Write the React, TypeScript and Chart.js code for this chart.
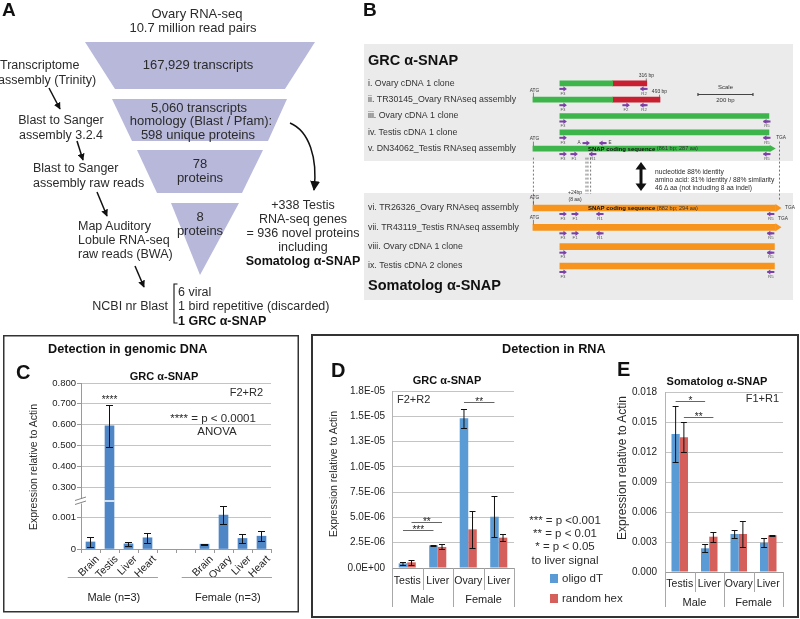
import React, { useEffect, useRef } from 'react';
import { Chart, registerables } from 'chart.js';

Chart.register(...registerables);

const FONT = '"Liberation Sans", Arial, Helvetica, sans-serif';

// ---------------- Panel C : detection in genomic DNA ----------------
const cCategories = ['Brain', 'Testis', 'Liver', 'Heart', '', '', 'Brain', 'Ovary', 'Liver', 'Heart'];
const cValues: (number | null)[] = [0.00022, 0.594, 0.00016, 0.00035, null, null, 0.00015, 0.00106, 0.00033, 0.0004];
const cErrors: (number | null)[] = [0.00015, 0.1, 0.00007, 0.00016, null, null, 0.00002, 0.00028, 0.00013, 0.00015];
const cStars = ['', '****', '', '', '', '', '', '', '', ''];
const cTickValues = [0, 0.001, 0.3, 0.4, 0.5, 0.6, 0.7, 0.8];
const cTickLabels = ['0', '0.001', '0.300', '0.400', '0.500', '0.600', '0.700', '0.800'];
const cGroups = ['Male (n=3)', 'Female (n=3)'];
const cGroupSpans = [[0, 3], [6, 9]];

// ---------------- Panel D : GRC alpha-SNAP in RNA ----------------
const seriesNames = ['oligo dT', 'random hex'];
const dCategories = ['Testis', 'Liver', 'Ovary', 'Liver'];
const dGroups = ['Male', 'Female'];
const dOligo = [4.6e-7, 2.24e-6, 1.48e-5, 5.07e-6];
const dOligoErr = [1.5e-7, 3e-8, 9.5e-7, 2.0e-6];
const dRandom = [5.6e-7, 2.08e-6, 3.82e-6, 3.0e-6];
const dRandomErr = [2.8e-7, 2.5e-7, 1.85e-6, 3.3e-7];
const dSig = [
  { a: [0, 0], b: [0, 1], v: 3.76e-6, text: '***' },
  { a: [1, 0], b: [1, 1], v: 4.58e-6, text: '**' },
  { a: [0, 2], b: [0, 3], v: 1.64e-5, text: '**' },
];

// ---------------- Panel E : Somatolog alpha-SNAP in RNA ----------------
const eCategories = ['Testis', 'Liver', 'Ovary', 'Liver'];
const eGroups = ['Male', 'Female'];
const eOligo = [0.0138, 0.00237, 0.0038, 0.00293];
const eOligoErr = [0.0028, 0.0004, 0.0004, 0.00045];
const eRandom = [0.01347, 0.00353, 0.0038, 0.00367];
const eRandomErr = [0.0015, 0.0005, 0.0013, 0.00004];
const eSig = [
  { a: [0, 0], b: [0, 1], v: 0.0171, text: '*' },
  { a: [1, 0], b: [1, 1], v: 0.0155, text: '**' },
];

// ---------------- Panel B : transcript maps (bp) ----------------
const grcRows = [
  'i. Ovary cDNA 1 clone',
  'ii. TR30145_Ovary RNAseq assembly',
  'iii. Ovary cDNA 1 clone',
  'iv. Testis cDNA 1 clone',
  'v. DN34062_Testis RNAseq assembly',
];
const grcCoding: [number, number][] = [[98, 290], [0, 290], [98, 858], [98, 858], [0, 861]];
const grcUtr: ([number, number] | null)[] = [[290, 414], [290, 462], null, null, null];
const grcLengthLabels = ['316 bp', '493 bp', '', '', ''];
const grcHasAtg = [false, true, false, false, true];
const grcArrow = [false, false, false, false, true];
const grcPrimers = [
  { row: 0, bp: 109, name: 'F3' }, { row: 0, bp: 404, name: 'R2' },
  { row: 1, bp: 109, name: 'F3' }, { row: 1, bp: 338, name: 'F2' }, { row: 1, bp: 404, name: 'R2' },
  { row: 2, bp: 109, name: 'F3' }, { row: 2, bp: 851, name: 'R5' },
  { row: 3, bp: 109, name: 'F3' }, { row: 3, bp: 851, name: 'R5' },
  { row: 4, bp: 109, name: 'F3' }, { row: 4, bp: 149, name: 'F1' }, { row: 4, bp: 218, name: 'R1' }, { row: 4, bp: 851, name: 'R5' },
  { row: 4, bp: 193, name: 'A', above: true }, { row: 4, bp: 255, name: 'E', above: true },
];
const grcCodingNote = ['SNAP coding sequence', ' (861 bp; 287 aa)'];
const grcStopBp = 895;
const grcIndelBp = [193, 200, 210];

const somRows = [
  'vi. TR26326_Ovary RNAseq assembly',
  'vii. TR43119_Testis RNAseq assembly',
  'viii. Ovary cDNA 1 clone',
  'ix. Testis cDNA 2 clones',
];
const somCoding: [number, number][] = [[0, 882], [0, 882], [98, 878], [98, 878]];
const somHasAtg = [true, true, false, false];
const somArrow = [true, true, false, false];
const somPrimers = [
  { row: 0, bp: 109, name: 'F3' }, { row: 0, bp: 153, name: 'F1' }, { row: 0, bp: 244, name: 'R1' }, { row: 0, bp: 865, name: 'R5' },
  { row: 1, bp: 109, name: 'F3' }, { row: 1, bp: 153, name: 'F1' }, { row: 1, bp: 244, name: 'R1' }, { row: 1, bp: 865, name: 'R5' },
  { row: 2, bp: 109, name: 'F3' }, { row: 2, bp: 865, name: 'R5' },
  { row: 3, bp: 109, name: 'F3' }, { row: 3, bp: 865, name: 'R5' },
];
const somCodingNote = ['SNAP coding sequence', ' (882 bp; 294 aa)'];
const somIndelNote = ['+24bp', '(8 aa)'];
const somIndelBp = 153;
const scaleBarBp = [600, 800];
const scaleBarLabel = '200 bp';

// ---------------- colours ----------------
const BLUE_C = '#4f86c6';
const BLUE = '#5b9bd5';
const RED = '#d5605b';
const GREEN = '#3db54a';
const CRIMSON = '#c81f31';
const ORANGE = '#f7941d';
const PURPLE = '#7b3fa6';
const GRID = '#c4c4c4';
const AXIS = '#9a9a9a';

// broken axis transform for panel C (display units)
const C_LOW_TOP = 0.0015;
function cScale(v: number) {
  return v <= C_LOW_TOP ? v / 0.001 : 1.9375 + ((v - 0.3) / 0.1) * 0.65;
}
const C_BREAK = 1.5;

function sci(v: number) {
  if (v === 0) return '0.0E+00';
  let exp = Math.floor(Math.log10(Math.abs(v)) + 1e-9);
  let m = Math.round((v / Math.pow(10, exp)) * 10 + 1e-9) / 10;
  if (m >= 10) { m = 1; exp += 1; }
  return `${m.toFixed(1)}E${exp < 0 ? '-' : '+'}${String(Math.abs(exp)).padStart(2, '0')}`;
}

function txt(ctx: any, t: string, x: number, y: number, size: number, align = 'center', weight = 'normal', color = '#333') {
  ctx.font = `${weight} ${size}px ${FONT}`;
  ctx.fillStyle = color;
  ctx.textAlign = align;
  ctx.textBaseline = 'middle';
  ctx.fillText(t, x, y);
}
function seg(ctx: any, x1: number, y1: number, x2: number, y2: number) {
  ctx.beginPath();
  ctx.moveTo(x1, y1);
  ctx.lineTo(x2, y2);
  ctx.stroke();
}

// ---------------- panel C plugin ----------------
const cPlugin = {
  id: 'cExtras',
  afterDatasetsDraw(chart: any) {
    const { ctx } = chart;
    const y = chart.scales.y;
    const meta = chart.getDatasetMeta(0);
    ctx.save();
    cValues.forEach((v, i) => {
      if (v == null) return;
      const bx = meta.data[i].x;
      const e = cErrors[i] || 0;
      if (v > C_LOW_TOP) {
        const yb = y.getPixelForValue(C_BREAK);
        ctx.strokeStyle = '#ffffff';
        ctx.lineWidth = 1.5;
        seg(ctx, bx - 5, yb, bx + 5, yb);
      }
      const yt = Math.round(y.getPixelForValue(cScale(v + e))) + 0.5;
      const ybt = Math.round(y.getPixelForValue(cScale(Math.max(0, v - e)))) + 0.5;
      ctx.strokeStyle = '#111';
      ctx.lineWidth = 1;
      seg(ctx, bx, yt, bx, ybt);
      seg(ctx, bx - 3.5, yt, bx + 3.5, yt);
      seg(ctx, bx - 3.5, ybt, bx + 3.5, ybt);
      if (cStars[i]) {
        ctx.font = `10px ${FONT}`;
        ctx.fillStyle = '#222';
        ctx.textAlign = 'center';
        ctx.textBaseline = 'alphabetic';
        ctx.fillText(cStars[i], bx, yt - 3);
      }
    });
    // axis break marks
    const yb = y.getPixelForValue(C_BREAK);
    const ax = chart.chartArea.left;
    ctx.fillStyle = '#ffffff';
    ctx.fillRect(ax - 2, yb - 2.5, 4, 5);
    ctx.strokeStyle = '#777';
    ctx.lineWidth = 0.9;
    seg(ctx, ax - 6, yb - 0.5, ax + 5, yb - 4);
    seg(ctx, ax - 6, yb + 3.5, ax + 5, yb);
    ctx.restore();
  },
  afterDraw(chart: any) {
    const { ctx, chartArea } = chart;
    const x = chart.scales.x;
    const w = x.getPixelForValue(1) - x.getPixelForValue(0);
    ctx.save();
    ctx.strokeStyle = '#a0a0a0';
    ctx.lineWidth = 1;
    cGroupSpans.forEach(([a, b], gi) => {
      const x0 = x.getPixelForValue(a) - 1.2 * w;
      const x1 = x.getPixelForValue(b) + 0.55 * w;
      const ly = Math.round(chartArea.bottom + 28) + 0.5;
      seg(ctx, x0, ly, x1, ly);
      txt(ctx, cGroups[gi], (x0 + x1) / 2 + 1, ly + 20, 11, 'center', 'normal', '#222');
    });
    ctx.restore();
  },
};

function buildC() {
  return {
    type: 'bar',
    data: {
      labels: cCategories,
      datasets: [{ data: cValues.map((v) => (v == null ? null : cScale(v))), backgroundColor: BLUE_C, barThickness: 9 }],
    },
    options: {
      responsive: false,
      animation: false,
      devicePixelRatio: 1,
      layout: { padding: { top: 23, right: 29, left: 0, bottom: 0 } },
      plugins: { legend: { display: false }, tooltip: { enabled: false } },
      scales: {
        x: {
          offset: true,
          grid: { display: true, offset: true, drawOnChartArea: false, drawTicks: true, tickLength: 4, tickColor: AXIS, color: AXIS },
          border: { display: true, color: AXIS },
          ticks: { autoSkip: false, minRotation: 45, maxRotation: 45, padding: 0, labelOffset: 7, color: '#222', font: { family: FONT, size: 10.5 } },
          afterFit: (s: any) => { s.height = 61; },
        },
        y: {
          min: 0,
          max: cScale(0.8),
          afterBuildTicks: (s: any) => { s.ticks = cTickValues.map((v) => ({ value: cScale(v) })); },
          ticks: { callback: (_v: any, i: number) => cTickLabels[i], padding: 1, color: '#222', font: { family: FONT, size: 9.5 } },
          grid: {
            color: (c: any) => (c.tick && c.tick.value === 0 ? 'rgba(0,0,0,0)' : GRID),
            tickColor: AXIS,
            drawTicks: true,
            tickLength: 4,
          },
          border: { display: true, color: AXIS },
          afterFit: (s: any) => { s.width = 81; },
        },
      },
    },
    plugins: [cPlugin],
  };
}

// ---------------- panels D / E ----------------
function exprPlugin(errors: number[][], sig: any[], groups: string[], divLong: number, divShort: number, groupDy: number) {
  return {
    id: 'exprExtras',
    afterDatasetsDraw(chart: any) {
      const { ctx } = chart;
      const y = chart.scales.y;
      ctx.save();
      chart.data.datasets.forEach((ds: any, di: number) => {
        const meta = chart.getDatasetMeta(di);
        ds.data.forEach((v: number, i: number) => {
          const e = errors[di][i];
          const bx = meta.data[i].x;
          const yt = Math.round(y.getPixelForValue(v + e)) + 0.5;
          const yb = Math.round(y.getPixelForValue(v - e)) + 0.5;
          ctx.strokeStyle = '#111';
          ctx.lineWidth = 1;
          seg(ctx, bx, yt, bx, yb);
          seg(ctx, bx - 3, yt, bx + 3, yt);
          seg(ctx, bx - 3, yb, bx + 3, yb);
        });
      });
      sig.forEach((s: any) => {
        const xa = chart.getDatasetMeta(s.a[0]).data[s.a[1]].x;
        const xb = chart.getDatasetMeta(s.b[0]).data[s.b[1]].x;
        const yy = Math.round(y.getPixelForValue(s.v)) + 0.5;
        ctx.strokeStyle = '#666';
        ctx.lineWidth = 1;
        seg(ctx, xa, yy, xb, yy);
        ctx.font = `10px ${FONT}`;
        ctx.fillStyle = '#222';
        ctx.textAlign = 'center';
        ctx.textBaseline = 'alphabetic';
        ctx.fillText(s.text, (xa + xb) / 2, yy + 2);
      });
      ctx.restore();
    },
    afterDraw(chart: any) {
      const { ctx, chartArea } = chart;
      const n = chart.data.labels.length;
      const w = (chartArea.right - chartArea.left) / n;
      ctx.save();
      ctx.strokeStyle = '#a8a8a8';
      ctx.lineWidth = 1;
      for (let i = 0; i <= n; i++) {
        const xx = Math.round(chartArea.left + i * w) + 0.5;
        seg(ctx, xx, chartArea.bottom, xx, chartArea.bottom + (i % 2 === 0 ? divLong : divShort));
      }
      groups.forEach((g, gi) => {
        txt(ctx, g, chartArea.left + (2 * gi + 1) * w, chartArea.bottom + groupDy, 11, 'center', 'normal', '#222');
      });
      ctx.restore();
    },
  };
}

function buildExpr(p: any) {
  return {
    type: 'bar',
    data: {
      labels: p.labels,
      datasets: [
        { label: seriesNames[0], data: p.a, backgroundColor: BLUE, categoryPercentage: 0.56, barPercentage: 1 },
        { label: seriesNames[1], data: p.b, backgroundColor: RED, categoryPercentage: 0.56, barPercentage: 1 },
      ],
    },
    options: {
      responsive: false,
      animation: false,
      devicePixelRatio: 1,
      layout: { padding: { top: p.padTop, right: p.padRight, left: 0, bottom: 0 } },
      plugins: { legend: { display: false }, tooltip: { enabled: false } },
      scales: {
        x: {
          grid: { display: true, drawOnChartArea: false, drawTicks: false },
          border: { display: true, color: AXIS },
          ticks: { autoSkip: false, minRotation: 0, maxRotation: 0, padding: p.xPad, color: '#222', font: { family: FONT, size: 10.5 } },
          afterFit: (s: any) => { s.height = p.xHeight; },
        },
        y: {
          min: 0,
          max: p.max,
          ticks: { stepSize: p.step, callback: p.fmt, padding: p.yPad, color: '#222', font: { family: FONT, size: 10 } },
          grid: { color: GRID, drawTicks: false },
          border: { display: true, color: '#b4b4b4' },
          afterFit: (s: any) => { s.width = p.yWidth; },
        },
      },
    },
    plugins: [exprPlugin([p.ae, p.be], p.sig, p.groups, p.divLong, p.divShort, p.groupDy)],
  };
}

const buildD = () =>
  buildExpr({
    labels: dCategories, a: dOligo, b: dRandom, ae: dOligoErr, be: dRandomErr, sig: dSig, groups: dGroups,
    max: 1.75e-5, step: 2.5e-6, fmt: (v: number) => sci(v), yWidth: 80, yPad: 7, xHeight: 42, xPad: 7,
    padTop: 21, padRight: 8, divLong: 39, divShort: 22, groupDy: 32,
  });
const buildE = () =>
  buildExpr({
    labels: eCategories, a: eOligo, b: eRandom, ae: eOligoErr, be: eRandomErr, sig: eSig, groups: eGroups,
    max: 0.018, step: 0.003, fmt: (v: number) => v.toFixed(3), yWidth: 50, yPad: 8, xHeight: 38, xPad: 6,
    padTop: 22, padRight: 12, divLong: 35, divShort: 20, groupDy: 31,
  });

// ---------------- panel B (tracks) ----------------
function drawPrimer(ctx: any, x: number, y: number, name: string, above: boolean) {
  const dir = name[0] === 'R' || name === 'E' ? -1 : 1;
  ctx.fillStyle = PURPLE;
  ctx.fillRect(x - 3.5, y - 1, 5, 2);
  const tip = x + dir * 4;
  ctx.beginPath();
  ctx.moveTo(tip, y);
  ctx.lineTo(tip - dir * 3.5, y - 2.6);
  ctx.lineTo(tip - dir * 3.5, y + 2.6);
  ctx.closePath();
  ctx.fill();
  if (dir < 0) ctx.fillRect(x - 0.5, y - 1, 4, 2);
  if (above) txt(ctx, name, x + (dir > 0 ? -7 : 7), y, 4.6, 'center', 'normal', '#444');
  else txt(ctx, name, x, y + 4.6, 4.3, 'center', 'normal', '#555');
}
function arrowHead(ctx: any, x: number, y: number, color: string, h: number) {
  ctx.fillStyle = color;
  ctx.beginPath();
  ctx.moveTo(x, y - h);
  ctx.lineTo(x + 6, y);
  ctx.lineTo(x, y + h);
  ctx.closePath();
  ctx.fill();
}
function codingNote(ctx: any, note: string[], x: number, y: number) {
  ctx.font = `bold 6px ${FONT}`;
  const w = ctx.measureText(note[0]).width;
  txt(ctx, note[0], x, y + 0.3, 6, 'left', 'bold', '#111');
  txt(ctx, note[1], x + w, y + 0.3, 5.6, 'left', 'normal', '#333');
}

const grcPlugin = {
  id: 'grcExtras',
  afterDatasetsDraw(chart: any) {
    const { ctx } = chart;
    const X = (bp: number) => chart.scales.x.getPixelForValue(bp);
    const Y = (i: number) => chart.scales.y.getPixelForValue(i);
    ctx.save();
    grcArrow.forEach((a, i) => { if (a) arrowHead(ctx, X(grcCoding[i][1]), Y(i), GREEN, 3.5); });
    ctx.strokeStyle = '#555';
    ctx.lineWidth = 0.7;
    grcLengthLabels.forEach((lab, i) => {
      if (!lab) return;
      const s = grcUtr[i] || grcCoding[i];
      const xe = X(s[1]) - 0.5;
      seg(ctx, xe, Y(i) - 5, xe, Y(i) - 2.5);
      txt(ctx, lab, xe, Y(i) - 8, 5, 'center', 'normal', '#333');
    });
    grcHasAtg.forEach((h, i) => {
      if (!h) return;
      const x0 = X(0) + 0.5;
      seg(ctx, x0, Y(i) - 7, x0, Y(i) - 2.5);
      txt(ctx, 'ATG', x0 + 1, Y(i) - 9.5, 4.8, 'center', 'normal', '#333');
    });
    // stop codon
    const last = grcRows.length - 1;
    txt(ctx, 'TGA', X(grcStopBp) + 2, Y(last) - 10.5, 4.8, 'center', 'normal', '#333');
    codingNote(ctx, grcCodingNote, X(200), Y(last));
    grcPrimers.forEach((p: any) => drawPrimer(ctx, X(p.bp), Y(p.row) + (p.above ? -5.5 : 5.5), p.name, !!p.above));
    // scale bar
    const sy = Math.round(Y(1) - 6) + 0.5;
    ctx.strokeStyle = '#444';
    ctx.lineWidth = 1.2;
    seg(ctx, X(scaleBarBp[0]), sy, X(scaleBarBp[1]), sy);
    seg(ctx, X(scaleBarBp[0]), sy - 1.5, X(scaleBarBp[0]), sy + 1.5);
    seg(ctx, X(scaleBarBp[1]), sy - 1.5, X(scaleBarBp[1]), sy + 1.5);
    const smid = (X(scaleBarBp[0]) + X(scaleBarBp[1])) / 2;
    txt(ctx, 'Scale', smid, sy - 7, 6, 'center', 'normal', '#333');
    txt(ctx, scaleBarLabel, smid, sy + 6, 6, 'center', 'normal', '#333');
    // dashed guide lines to the somatolog tracks
    ctx.strokeStyle = '#555';
    ctx.lineWidth = 0.8;
    ctx.setLineDash([2, 2]);
    const bottom = chart.height - 1;
    seg(ctx, X(0) + 0.5, Y(last) + 9, X(0) + 0.5, bottom);
    grcIndelBp.forEach((bp) => seg(ctx, X(bp), Y(last) + 9, X(bp), bottom - 10));
    seg(ctx, X(grcStopBp) + 0.5, Y(last) - 7, X(grcStopBp) + 0.5, bottom - 4);
    ctx.setLineDash([]);
    ctx.restore();
  },
};

const somPlugin = {
  id: 'somExtras',
  afterDatasetsDraw(chart: any) {
    const { ctx } = chart;
    const X = (bp: number) => chart.scales.x.getPixelForValue(bp);
    const Y = (i: number) => chart.scales.y.getPixelForValue(i);
    ctx.save();
    somArrow.forEach((a, i) => { if (a) arrowHead(ctx, X(somCoding[i][1]), Y(i), ORANGE, 4); });
    ctx.strokeStyle = '#555';
    ctx.lineWidth = 0.7;
    somHasAtg.forEach((h, i) => {
      if (!h) return;
      const x0 = X(0) + 0.5;
      seg(ctx, x0, Y(i) - 7.5, x0, Y(i) - 3);
      txt(ctx, 'ATG', x0 + 1, Y(i) - 10, 4.8, 'center', 'normal', '#333');
    });
    const tip0 = X(somCoding[0][1]) + 6;
    txt(ctx, 'TGA', tip0 + 3.5, Y(0) - 0.5, 4.8, 'left', 'normal', '#333');
    const tip1 = X(somCoding[1][1]) + 6;
    txt(ctx, 'TGA', tip1 - 3.5, Y(1) - 9, 4.8, 'left', 'normal', '#333');
    codingNote(ctx, somCodingNote, X(200), Y(0));
    txt(ctx, somIndelNote[0], X(somIndelBp), Y(0) - 15, 5, 'center', 'normal', '#333');
    txt(ctx, somIndelNote[1], X(somIndelBp), Y(0) - 8.5, 5, 'center', 'normal', '#333');
    somPrimers.forEach((p: any) => drawPrimer(ctx, X(p.bp), Y(p.row) + 6, p.name, false));
    ctx.restore();
  },
};

function trackOptions(rows: string[], padTop: number, padBottom: number) {
  return {
    indexAxis: 'y',
    responsive: false,
    animation: false,
    devicePixelRatio: 1,
    layout: { padding: { top: padTop, bottom: padBottom, left: 4, right: 0 } },
    plugins: { legend: { display: false }, tooltip: { enabled: false } },
    scales: {
      x: { type: 'linear', min: -47, max: 971, display: false },
      y: {
        type: 'category',
        labels: rows,
        grid: { display: false },
        border: { display: false },
        ticks: { crossAlign: 'far', padding: 0, color: '#333', font: { family: FONT, size: 8.8 } },
        afterFit: (s: any) => { s.width = 152; },
      },
    },
  };
}

const buildGrc = () => ({
  type: 'bar',
  data: {
    labels: grcRows,
    datasets: [
      { data: grcCoding, backgroundColor: GREEN, barThickness: 5, grouped: false },
      { data: grcUtr, backgroundColor: CRIMSON, barThickness: 5, grouped: false },
    ],
  },
  options: trackOptions(grcRows, 15.25, 48.25),
  plugins: [grcPlugin],
});
const buildSom = () => ({
  type: 'bar',
  data: {
    labels: somRows,
    datasets: [{ data: somCoding, backgroundColor: ORANGE, barThickness: 6, grouped: false }],
  },
  options: trackOptions(somRows, 8.35, 24.35),
  plugins: [somPlugin],
});

// ---------------- generic canvas ----------------
function ChartCanvas({ left, top, width, height, build }: any) {
  const ref = useRef<HTMLCanvasElement | null>(null);
  useEffect(() => {
    if (!ref.current) return;
    const chart = new Chart(ref.current, build());
    return () => chart.destroy();
  }, []);
  return <canvas ref={ref} width={width} height={height} style={{ position: 'absolute', left, top, width, height }} />;
}

// ---------------- static text / diagram ----------------
type T = { x: number; y: number; t: string; s?: number; b?: boolean; a?: string; c?: string; r?: number };
const A_S = 13;
const S_S = 12.5;
const labels: T[] = [
  { x: 197, y: 13, t: 'Ovary RNA-seq', s: A_S, a: 'middle' },
  { x: 193, y: 27, t: '10.7 million read pairs', s: A_S, a: 'middle' },
  { x: 198, y: 64, t: '167,929 transcripts', s: A_S, a: 'middle' },
  { x: 199, y: 107, t: '5,060 transcripts', s: A_S, a: 'middle' },
  { x: 201, y: 120, t: 'homology (Blast / Pfam):', s: A_S, a: 'middle' },
  { x: 198, y: 134, t: '598 unique proteins', s: A_S, a: 'middle' },
  { x: 200, y: 163, t: '78', s: A_S, a: 'middle' },
  { x: 200, y: 177, t: 'proteins', s: A_S, a: 'middle' },
  { x: 200, y: 216, t: '8', s: A_S, a: 'middle' },
  { x: 200, y: 230, t: 'proteins', s: A_S, a: 'middle' },
  { x: 0, y: 65, t: 'Transcriptome', s: S_S },
  { x: -2, y: 80, t: 'assembly (Trinity)', s: S_S },
  { x: 61, y: 120, t: 'Blast to Sanger', s: S_S, a: 'middle' },
  { x: 61, y: 135, t: 'assembly 3.2.4', s: S_S, a: 'middle' },
  { x: 33, y: 168, t: 'Blast to Sanger', s: S_S },
  { x: 33, y: 183, t: 'assembly raw reads', s: S_S },
  { x: 78, y: 226, t: 'Map Auditory', s: S_S },
  { x: 78, y: 240, t: 'Lobule RNA-seq', s: S_S },
  { x: 78, y: 254, t: 'raw reads (BWA)', s: S_S },
  { x: 168, y: 306, t: 'NCBI nr Blast', s: S_S, a: 'end' },
  { x: 178, y: 292, t: '6 viral', s: S_S },
  { x: 178, y: 306, t: '1 bird repetitive (discarded)', s: S_S },
  { x: 178, y: 321, t: '1 GRC α-SNAP', s: S_S, b: true, c: '#111' },
  { x: 303, y: 205, t: '+338 Testis', s: S_S, a: 'middle' },
  { x: 303, y: 219, t: 'RNA-seq genes', s: S_S, a: 'middle' },
  { x: 303, y: 233, t: '= 936 novel proteins', s: S_S, a: 'middle' },
  { x: 303, y: 247, t: 'including', s: S_S, a: 'middle' },
  { x: 303, y: 261, t: 'Somatolog α-SNAP', s: S_S, b: true, a: 'middle', c: '#111' },
  { x: 2, y: 9, t: 'A', s: 19, b: true, c: '#111' },
  { x: 363, y: 9, t: 'B', s: 19, b: true, c: '#111' },
  { x: 16, y: 372, t: 'C', s: 20, b: true, c: '#111' },
  { x: 331, y: 370, t: 'D', s: 20, b: true, c: '#111' },
  { x: 617, y: 369, t: 'E', s: 20, b: true, c: '#111' },
  { x: 368, y: 60, t: 'GRC α-SNAP', s: 14.5, b: true, c: '#111' },
  { x: 368, y: 285, t: 'Somatolog α-SNAP', s: 14.5, b: true, c: '#111' },
  { x: 655, y: 171, t: 'nucleotide 88% identity', s: 6.7 },
  { x: 655, y: 179, t: 'amino acid: 81% identity / 88% similarity', s: 6.7 },
  { x: 655, y: 187, t: '46 Δ aa (not including 8 aa indel)', s: 6.7 },
  { x: 48, y: 349, t: 'Detection in genomic DNA', s: 12.7, b: true, c: '#111' },
  { x: 164, y: 376, t: 'GRC α-SNAP', s: 11, b: true, a: 'middle', c: '#111' },
  { x: 263, y: 392, t: 'F2+R2', s: 11, a: 'end' },
  { x: 213, y: 418, t: '**** = p < 0.0001', s: 11.5, a: 'middle' },
  { x: 217, y: 431, t: 'ANOVA', s: 11.5, a: 'middle' },
  { x: 33, y: 467, t: 'Expression relative to Actin', s: 10.5, a: 'middle', r: -90 },
  { x: 502, y: 349, t: 'Detection in RNA', s: 12.7, b: true, c: '#111' },
  { x: 447, y: 380, t: 'GRC α-SNAP', s: 11, b: true, a: 'middle', c: '#111' },
  { x: 397, y: 399, t: 'F2+R2', s: 11 },
  { x: 333, y: 474, t: 'Expression relative to Actin', s: 10.5, a: 'middle', r: -90 },
  { x: 565, y: 520, t: '*** = p <0.001', s: 11.5, a: 'middle' },
  { x: 565, y: 533, t: '** = p < 0.01', s: 11.5, a: 'middle' },
  { x: 565, y: 546, t: '* = p < 0.05', s: 11.5, a: 'middle' },
  { x: 565, y: 560, t: 'to liver signal', s: 11.5, a: 'middle' },
  { x: 562, y: 578, t: seriesNames[0], s: 11.5 },
  { x: 562, y: 598, t: seriesNames[1], s: 11.5 },
  { x: 717, y: 381, t: 'Somatolog α-SNAP', s: 11, b: true, a: 'middle', c: '#111' },
  { x: 779, y: 398, t: 'F1+R1', s: 11, a: 'end' },
  { x: 622, y: 468, t: 'Expression relative to Actin', s: 12, a: 'middle', r: -90 },
];

const FUNNEL = '#b7b8da';

export default function App() {
  return (
    <div style={{ position: 'absolute', left: 0, top: 0, width: 800, height: 619, background: '#fff', overflow: 'hidden' }}>
      <svg width={800} height={619} style={{ position: 'absolute', left: 0, top: 0 }}>
        <rect x={364} y={44} width={429} height={117} fill="#ebebeb" />
        <rect x={364} y={193} width={429} height={107} fill="#ebebeb" />
      </svg>
      <ChartCanvas left={364} top={60} width={436} height={145} build={buildGrc} />
      <ChartCanvas left={364} top={190} width={436} height={110} build={buildSom} />
      <ChartCanvas left={0} top={360} width={300} height={250} build={buildC} />
      <ChartCanvas left={312} top={370} width={210} height={240} build={buildD} />
      <ChartCanvas left={615} top={370} width={180} height={240} build={buildE} />
      <svg width={800} height={619} style={{ position: 'absolute', left: 0, top: 0, pointerEvents: 'none' }}>
        <defs>
          <marker id="ah" viewBox="0 0 10 10" refX="9" refY="5" markerWidth="7" markerHeight="7" orient="auto" markerUnits="userSpaceOnUse">
            <path d="M0,0 L10,5 L0,10 z" fill="#111" />
          </marker>
          <marker id="ah2" viewBox="0 0 10 10" refX="9" refY="5" markerWidth="10" markerHeight="10" orient="auto" markerUnits="userSpaceOnUse">
            <path d="M0,0 L10,5 L0,10 z" fill="#111" />
          </marker>
        </defs>
        {/* funnel */}
        <polygon points="85,42 315,42 285,89 115,89" fill={FUNNEL} />
        <polygon points="112,99 287,99 268,141 132,141" fill={FUNNEL} />
        <polygon points="137,150 263,150 242,193 157,193" fill={FUNNEL} />
        <polygon points="171,203 239,203 200,275" fill={FUNNEL} />
        {/* side arrows */}
        <g stroke="#111" strokeWidth={1.5} fill="none">
          <line x1={49} y1={88} x2={60} y2={109} markerEnd="url(#ah)" />
          <line x1={77} y1={141} x2={83} y2={160} markerEnd="url(#ah)" />
          <line x1={97} y1={192} x2={107} y2={216} markerEnd="url(#ah)" />
          <line x1={135} y1={266} x2={144} y2={287} markerEnd="url(#ah)" />
          <path d="M290,123 C309,131 318,158 314,190" markerEnd="url(#ah2)" />
          <path d="M177.5,284 L174,284 L174,323 L177.5,323" strokeWidth={1.1} />
        </g>
        {/* double arrow in B */}
        <line x1={641} y1={167} x2={641} y2={186} stroke="#111" strokeWidth={3} />
        <polygon points="641,162 635.5,169.5 646.5,169.5" fill="#111" />
        <polygon points="641,191 635.5,183.5 646.5,183.5" fill="#111" />
        {/* panel frames */}
        <rect x={3.75} y={335.75} width={294.5} height={276} fill="none" stroke="#333" strokeWidth={1.5} />
        <rect x={312} y={335} width={486} height={282} fill="none" stroke="#333" strokeWidth={2} />
        {/* legend swatches */}
        <rect x={550} y={574} width={8} height={9} fill={BLUE} />
        <rect x={550} y={594} width={8} height={9} fill={RED} />
        {labels.map((d, i) => (
          <text
            key={i}
            x={d.x}
            y={d.y}
            fontSize={d.s ?? 12}
            fontWeight={d.b ? 'bold' : 'normal'}
            textAnchor={(d.a as any) ?? 'start'}
            dominantBaseline="central"
            fill={d.c ?? '#2b2b2b'}
            fontFamily={FONT}
            transform={d.r ? `rotate(${d.r} ${d.x} ${d.y})` : undefined}
          >
            {d.t}
          </text>
        ))}
      </svg>
    </div>
  );
}
